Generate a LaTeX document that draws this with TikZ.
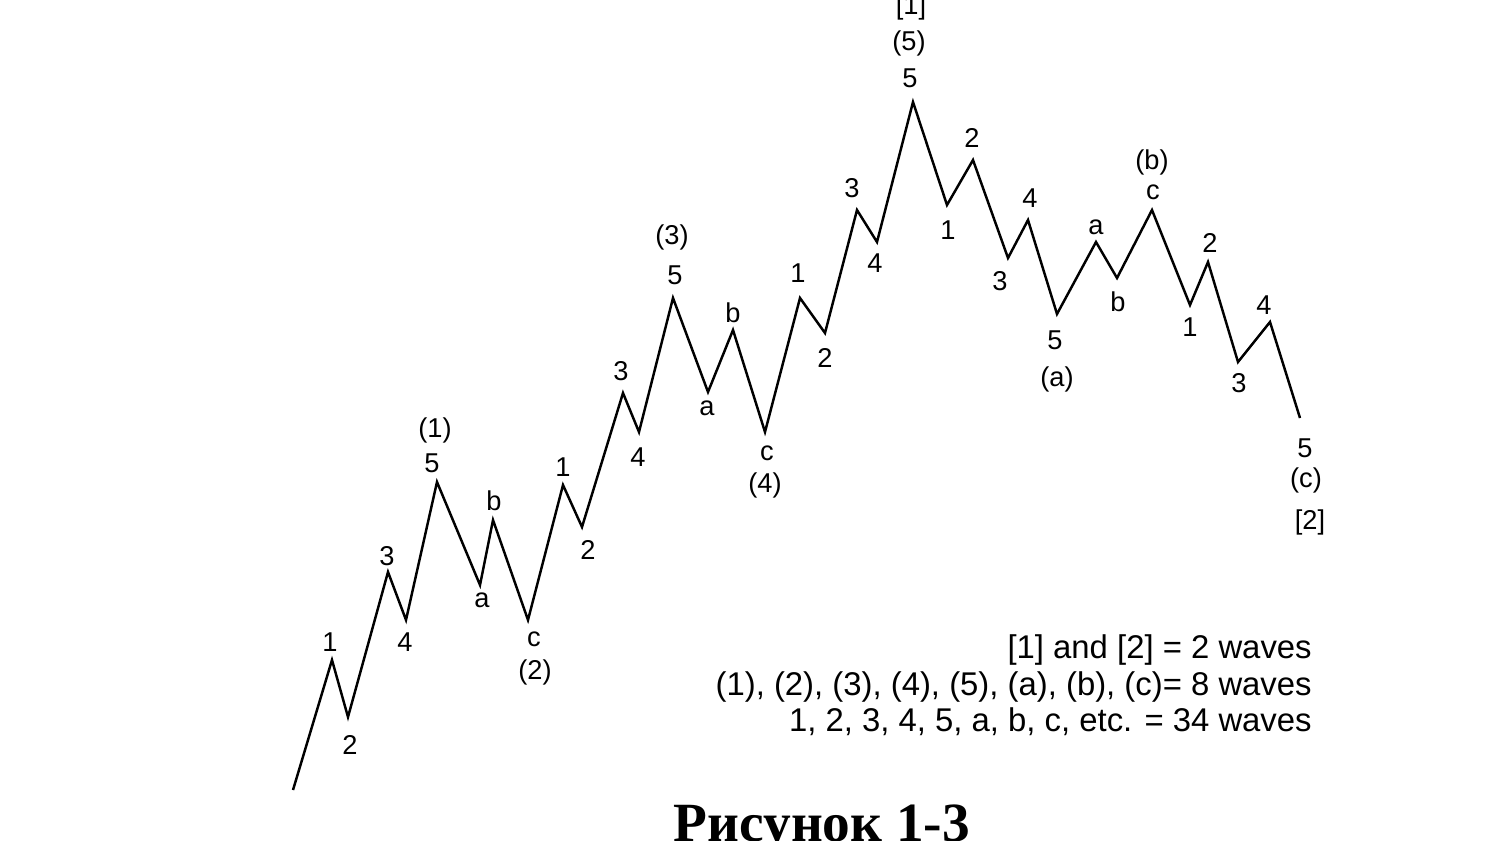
\documentclass[tikz,border=0pt]{standalone}
\usepackage{fontspec}
\setmainfont{Liberation Sans}
\newfontfamily\captionfont{Liberation Serif}
\usetikzlibrary{positioning}

\tikzset{
  wave/.style={line width=1.4pt},
  wlabel/.style={font=\fontsize{15.5}{18}\selectfont,inner sep=0pt},
  legend/.style={font=\fontsize{18.7}{22}\selectfont,inner sep=0pt,anchor=base east},
}

\begin{document}
\begin{tikzpicture}[x=0.02cm,y=-0.02cm]
  \useasboundingbox (0,0) rectangle (1505,841);

  % turning points of the wave
  \foreach \k/\x/\y in {0/293/790, 1/332/660, 2/348/717, 3/388/572, 4/406/620,
      5/437/482, 6/480/585, 7/493/520, 8/528/620, 9/563/485, 10/582/527,
      11/623/393, 12/639/432, 13/673/298, 14/708/392, 15/733/330, 16/765/432,
      17/800/298, 18/825/333, 19/857/210, 20/877/242, 21/913/102, 22/947/205,
      23/973/160, 24/1008/258, 25/1028/220, 26/1057/314, 27/1096/242,
      28/1117/278, 29/1152/210, 30/1190/305, 31/1208/262, 32/1238/362,
      33/1270/322, 34/1300/418}
    \coordinate (p\k) at (\x,\y);
  \draw[wave] (p0) \foreach \k in {1,...,34} {-- (p\k)};

  % wave counts
  \foreach \x/\y/\t [count=\k] in {330/642/1, 350/745/2, 387/556/3, 405/642/4,
      432/463/5, 435/430/(1), 482/600/a, 494/501/b, 534/639/c, 535/672/(2),
      563/467/1, 588/550/2, 621/371/3, 638/457/4, 675/275/5, 672/237/(3),
      707/408/a, 733/313/b, 767/453/c, 765/485/(4),
      798/273/1, 825/358/2, 852/188/3, 875/263/4, 910/78/5, 909/43/(5),
      911/7/[1],
      948/230/1, 972/138/2, 1000/281/3, 1030/198/4, 1055/340/5, 1057/379/(a),
      1096/227/a, 1118/302/b, 1153/192/c, 1152/162/(b),
      1190/327/1, 1210/243/2, 1239/383/3, 1264/305/4, 1305/448/5,
      1306/480/(c), 1310/522/[2]}
    \node[wlabel] (n\k) at (\x,\y) {\t};

  % legend
  \node[legend] (leg1) at (1312,658) {[1] and [2] = 2 waves};
  \node[legend] (leg2) at (1312,695) {(1), (2), (3), (4), (5), (a), (b), (c)= 8 waves};
  \node[legend] (leg3) at (1312,731) {1, 2, 3, 4, 5, a, b, c, etc. = 34 waves};

  \node[font=\captionfont\bfseries\fontsize{31.5}{36}\selectfont,anchor=base]
    (cap) at (822,841) {Рисунок 1-3};
\end{tikzpicture}
\end{document}
